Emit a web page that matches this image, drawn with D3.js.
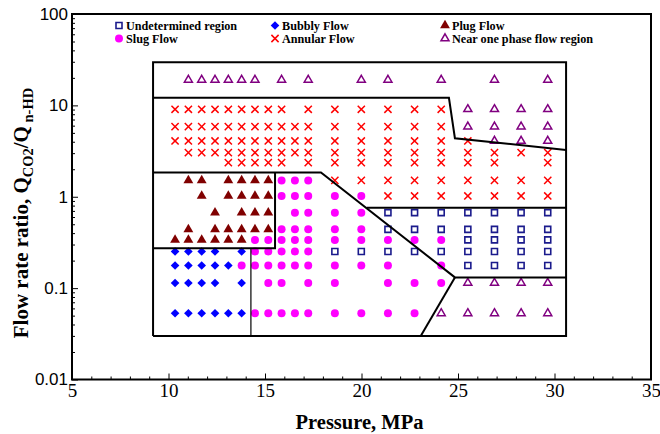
<!DOCTYPE html>
<html><head><meta charset="utf-8">
<script src="https://cdn.jsdelivr.net/npm/d3@7"></script>
<style>body{margin:0;background:#fff}svg{display:block}</style>
</head><body><svg id="c" width="660" height="434"></svg>
<script>
// ---- data (pressure in MPa, flow rate ratio) ----
const xTicks = [5, 10, 15, 20, 25, 30, 35];
const yTicks = [0.01, 0.1, 1, 10, 100];
const yTickLabels = ["0.01", "0.1", "1", "10", "100"];

// each row: ratio q, list of pressures p
const undetermined = [
  {q: 0.67,  p: [21.37, 22.75, 24.13, 25.51, 26.89, 28.27, 29.65]},
  {q: 0.44,  p: [21.37, 22.75, 24.13, 25.51, 26.89, 28.27, 29.65]},
  {q: 0.337, p: [25.51, 26.89, 28.27, 29.65]},
  {q: 0.252, p: [18.62, 19.99, 21.37, 22.75, 24.13, 25.51, 26.89, 28.27, 29.65]},
  {q: 0.177, p: [25.51, 26.89, 28.27, 29.65]}
];
const bubbly = [
  {q: 0.252, p: [10.34, 11.03, 11.72, 12.41, 13.79]},
  {q: 0.177, p: [10.34, 11.03, 11.72, 12.41, 13.10]},
  {q: 0.114, p: [10.34, 11.03, 11.72, 12.41, 13.79]},
  {q: 0.053, p: [10.34, 11.03, 11.72, 12.41, 13.10, 13.79]}
];
const plug = [
  {q: 1.51,  p: [11.03, 11.72, 13.10, 13.79, 14.48, 15.17]},
  {q: 1.02,  p: [11.72, 13.10, 13.79, 14.48, 15.17]},
  {q: 0.67,  p: [12.41, 13.79, 14.48, 15.17]},
  {q: 0.44,  p: [11.03, 12.41, 13.10, 13.79, 14.48, 15.17]},
  {q: 0.337, p: [10.34, 11.03, 11.72, 12.41, 13.10, 13.79]}
];
const slug = [
  {q: 1.51,  p: [15.86, 16.55, 17.24]},
  {q: 1.02,  p: [15.86, 16.55, 17.24, 18.62, 19.99]},
  {q: 0.67,  p: [16.55, 17.24, 18.62, 19.99]},
  {q: 0.44,  p: [15.86, 16.55, 17.24, 18.62, 19.99]},
  {q: 0.337, p: [14.48, 15.17, 15.86, 16.55, 17.24, 18.62, 19.99, 21.37, 22.75, 24.13]},
  {q: 0.252, p: [14.48, 15.17, 15.86, 16.55, 17.24]},
  {q: 0.177, p: [13.79, 14.48, 15.17, 15.86, 16.55, 17.24, 18.62, 19.99, 21.37, 24.13]},
  {q: 0.114, p: [15.17, 15.86, 17.24, 18.62, 21.37, 22.75, 24.13]},
  {q: 0.053, p: [14.48, 15.17, 15.86, 16.55, 17.24, 18.62, 19.99, 21.37, 22.75]}
];
const annular = [
  {q: 9.06, p: [10.34, 11.03, 11.72, 12.41, 13.10, 13.79, 14.48, 15.17, 15.86, 17.24, 18.62, 19.99, 21.37, 22.75, 24.13]},
  {q: 5.85, p: [10.34, 11.03, 11.72, 12.41, 13.10, 13.79, 14.48, 15.17, 15.86, 16.55, 17.24, 18.62, 19.99, 21.37, 22.75, 24.13]},
  {q: 4.08, p: [10.34, 11.03, 11.72, 12.41, 13.10, 13.79, 14.48, 15.17, 15.86, 16.55, 17.24, 18.62, 19.99, 21.37, 22.75, 24.13, 25.51]},
  {q: 3.04, p: [11.03, 11.72, 12.41, 13.10, 13.79, 14.48, 15.17, 15.86, 16.55, 17.24, 18.62, 19.99, 21.37, 22.75, 24.13, 25.51, 26.89, 28.27, 29.65]},
  {q: 2.36, p: [13.10, 13.79, 14.48, 15.17, 15.86, 17.24, 18.62, 19.99, 21.37, 22.75, 24.13, 25.51, 26.89, 29.65]},
  {q: 1.51, p: [18.62, 19.99, 21.37, 22.75, 24.13, 25.51, 26.89, 28.27, 29.65]},
  {q: 1.02, p: [21.37, 22.75, 24.13, 25.51, 26.89, 28.27, 29.65]}
];
const onePhase = [
  {q: 19,    p: [11.03, 11.72, 12.41, 13.10, 13.79, 14.48, 15.86, 17.24, 19.99, 21.37, 24.13, 26.89, 29.65]},
  {q: 9.06,  p: [25.51, 26.89, 28.27, 29.65]},
  {q: 5.85,  p: [25.51, 26.89, 28.27, 29.65]},
  {q: 4.08,  p: [26.89, 28.27, 29.65]},
  {q: 0.114, p: [25.51, 26.89, 28.27, 29.65]},
  {q: 0.053, p: [24.13, 25.51, 26.89, 28.27, 29.65]}
];

// regime boundary lines [pressure, ratio]
const outerBox = [[9.2, 0.03], [9.2, 29.6], [30.6, 29.6], [30.6, 0.03], [9.2, 0.03]];
const annularUpper = [[9.2, 12.1], [24.53, 12.1], [24.84, 4.37], [30.6, 3.25]];
const annularLower = [[9.2, 1.84], [17.9, 1.84], [24.84, 0.131], [30.6, 0.131]];
const undeterminedTop = [[20.27, 0.76], [30.6, 0.76]];
const onePhaseLower = [[24.84, 0.131], [23.07, 0.03]];
const plugBox = [[15.52, 1.84], [15.52, 0.273], [9.2, 0.273]];
const bubblyEdge = [[14.27, 0.273], [14.27, 0.03]];

// ---- drawing ----
const svg = d3.select("#c");
const L = 72, R = 651, T = 14, B = 379.5;
const x = d3.scaleLinear().domain([5, 35]).range([L, R]);
const y = d3.scaleLog().domain([0.01, 100]).range([B, T]);

const serif = "'Liberation Serif','Times New Roman',serif";
const sans = "'Liberation Sans',Arial,sans-serif";

const crossPath = "M-3.6,-3.6L3.6,3.6M-3.6,3.6L3.6,-3.6";
const diamondPath = "M0,-4.3L4.3,0L0,4.3L-4.3,0Z";
const styles = {
  undetermined: {path: d3.symbol(d3.symbolSquare, 36)(), fill: "none", stroke: "#1a1a8c", sw: 1.6},
  bubbly: {path: diamondPath, fill: "#0000ff", stroke: "none", sw: 0},
  plug: {path: d3.symbol(d3.symbolTriangle, 42)(), fill: "#800000", stroke: "none", sw: 0},
  slug: {path: d3.symbol(d3.symbolCircle, 50)(), fill: "#ff00ff", stroke: "none", sw: 0},
  annular: {path: crossPath, fill: "none", stroke: "#ff0000", sw: 1.5},
  onePhase: {path: d3.symbol(d3.symbolTriangle, 28)(), fill: "none", stroke: "#800080", sw: 1.5}
};
const seriesList = [
  ["annular", annular], ["onePhase", onePhase], ["undetermined", undetermined],
  ["slug", slug], ["plug", plug], ["bubbly", bubbly]
];

// axes ticks (inside)
const minorX = d3.range(6, 35).filter(v => v % 5 !== 0);
const minorY = [];
[0.01, 0.1, 1, 10].forEach(d => { for (let k = 2; k <= 9; k++) minorY.push(d * k); });

const gx = svg.append("g").attr("transform", `translate(0,${B})`);
gx.call(d3.axisBottom(x).tickValues(xTicks).tickSizeInner(-6).tickSizeOuter(0).tickPadding(4).tickFormat(d3.format("d")));
const gxm = svg.append("g").attr("transform", `translate(0,${B})`);
gxm.call(d3.axisBottom(x).tickValues(minorX).tickSizeInner(-3).tickSizeOuter(0).tickFormat(""));
const gy = svg.append("g").attr("transform", `translate(${L},0)`);
gy.call(d3.axisLeft(y).tickValues(yTicks).tickSizeInner(-6).tickSizeOuter(0).tickPadding(4).tickFormat((d, i) => yTickLabels[i]));
const gym = svg.append("g").attr("transform", `translate(${L},0)`);
gym.call(d3.axisLeft(y).tickValues(minorY).tickSizeInner(-3).tickSizeOuter(0).tickFormat(""));
[gx, gxm, gy, gym].forEach(g => {
  g.select(".domain").remove();
  g.selectAll(".tick line").attr("stroke", "#000").attr("stroke-width", 1);
});
gx.selectAll(".tick text").attr("font-family", serif).attr("font-size", 19).attr("fill", "#000");
gy.selectAll(".tick text").attr("font-family", sans).attr("font-size", 17).attr("fill", "#000");

// frame
svg.append("rect").attr("x", L).attr("y", T).attr("width", R - L).attr("height", B - T)
  .attr("fill", "none").attr("stroke", "#000").attr("stroke-width", 2);

// markers
seriesList.forEach(([key, rows]) => {
  const st = styles[key];
  const pts = rows.flatMap(r => r.p.map(p => ({p, q: r.q})));
  svg.append("g").selectAll("path").data(pts).join("path")
    .attr("d", st.path)
    .attr("transform", d => `translate(${x(d.p)},${y(d.q)})`)
    .attr("fill", st.fill).attr("stroke", st.stroke).attr("stroke-width", st.sw);
});

// boundaries
const line = d3.line().x(d => x(d[0])).y(d => y(d[1]));
[outerBox, annularUpper, annularLower, undeterminedTop, onePhaseLower, plugBox].forEach(b => {
  svg.append("path").attr("d", line(b)).attr("fill", "none").attr("stroke", "#000").attr("stroke-width", 2);
});
svg.append("path").attr("d", line(bubblyEdge)).attr("fill", "none").attr("stroke", "#000").attr("stroke-width", 1.2);

// legend
const legendItems = [
  {key: "undetermined", label: "Undetermined region", col: 0, row: 0},
  {key: "bubbly", label: "Bubbly Flow", col: 1, row: 0},
  {key: "plug", label: "Plug Flow", col: 2, row: 0},
  {key: "slug", label: "Slug Flow", col: 0, row: 1},
  {key: "annular", label: "Annular Flow", col: 1, row: 1},
  {key: "onePhase", label: "Near one phase flow region", col: 2, row: 1}
];
const legCols = [119, 275, 445];
const legRows = [25.5, 38.5];
const lg = svg.append("g");
legendItems.forEach(it => {
  const st = styles[it.key];
  const cx = legCols[it.col], cy = legRows[it.row];
  lg.append("path").attr("d", st.path).attr("transform", `translate(${cx},${cy})`)
    .attr("fill", st.fill).attr("stroke", st.stroke).attr("stroke-width", st.sw);
  lg.append("text").attr("x", cx + 7).attr("y", cy + 4).text(it.label)
    .attr("font-family", serif).attr("font-weight", "bold").attr("font-size", 12.2).attr("fill", "#000");
});

// axis titles
svg.append("text").attr("x", (L + R) / 2 - 2).attr("y", 429).attr("text-anchor", "middle")
  .attr("font-family", serif).attr("font-weight", "bold").attr("font-size", 20.5).text("Pressure, MPa");

const yt = svg.append("text").attr("transform", `translate(28,213) rotate(-90)`).attr("text-anchor", "middle")
  .attr("font-family", serif).attr("font-weight", "bold").attr("font-size", 21);
yt.append("tspan").text("Flow rate ratio, Q");
yt.append("tspan").attr("font-size", 14.5).attr("dy", 5).text("CO2");
yt.append("tspan").attr("dy", -5).text("/Q");
yt.append("tspan").attr("font-size", 14.5).attr("dy", 5).text(" n-HD");
</script></body></html>
